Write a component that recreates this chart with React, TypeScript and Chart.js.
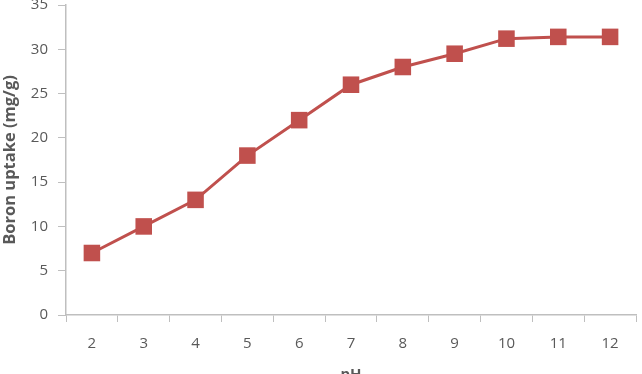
import React, { useEffect, useRef } from "react";
import { Chart, registerables } from "chart.js";

Chart.register(...registerables);

const categories = ["2", "3", "4", "5", "6", "7", "8", "9", "10", "11", "12"];
const uptake = [7, 10, 13, 18, 22, 26, 28, 29.5, 31.2, 31.4, 31.4];
const yTicks = [0, 5, 10, 15, 20, 25, 30, 35];

const RED = "#C0504D";
const GREY_TEXT = "#595959";
const AXIS = "#BFBFBF";
const FONT = "'Open Sans', 'Liberation Sans', sans-serif";

export default function App() {
  const ref = useRef<HTMLCanvasElement | null>(null);

  useEffect(() => {
    if (!ref.current) return;
    const chart = new Chart(ref.current, {
      type: "line",
      data: {
        labels: categories,
        datasets: [
          {
            data: uptake,
            borderColor: RED,
            backgroundColor: RED,
            borderWidth: 3,
            pointStyle: "rect",
            pointRadius: 11.7,
            pointBorderWidth: 0,
            tension: 0,
            clip: false,
          },
        ],
      },
      options: {
        animation: false,
        responsive: false,
        layout: { autoPadding: false, padding: { top: 5, right: 6, left: 0, bottom: 0 } },
        plugins: { legend: { display: false }, tooltip: { enabled: false } },
        scales: {
          x: {
            type: "category",
            offset: true,
            afterFit: (s: any) => {
              s.height = 59;
              s.paddingLeft = 0;
              s.paddingRight = 0;
            },
            grid: {
              offset: true,
              drawOnChartArea: false,
              drawTicks: true,
              tickLength: 7,
              color: AXIS,
            },
            border: { color: AXIS, width: 1.5 },
            ticks: {
              color: GREY_TEXT,
              font: { family: FONT, size: 15 },
              padding: 13,
              maxRotation: 0,
            },
            title: {
              display: true,
              text: "pH",
              color: GREY_TEXT,
              font: { family: FONT, size: 15, weight: "bold" },
              padding: { top: 0, bottom: -10 },
            },
          },
          y: {
            min: 0,
            max: 35,
            afterFit: (s: any) => {
              s.width = 66;
              s.paddingTop = 0;
              s.paddingBottom = 0;
            },
            afterBuildTicks: (s: any) => {
              s.ticks = yTicks.map((v) => ({ value: v }));
            },
            grid: {
              drawOnChartArea: false,
              drawTicks: true,
              tickLength: 8,
              color: AXIS,
            },
            border: { color: AXIS, width: 1.5 },
            ticks: {
              color: GREY_TEXT,
              font: { family: FONT, size: 15 },
              padding: 10,
            },
            title: {
              display: true,
              text: "Boron uptake (mg/g)",
              color: GREY_TEXT,
              font: { family: FONT, size: 16.5, weight: "bold" },
              padding: { top: 0, bottom: 0 },
            },
          },
        },
      },
    });
    return () => chart.destroy();
  }, []);

  return (
    <div style={{ position: "absolute", left: 0, top: 0, width: 642, height: 374, background: "#fff" }}>
      <canvas ref={ref} width={642} height={374} style={{ display: "block", width: 642, height: 374 }} />
    </div>
  );
}
